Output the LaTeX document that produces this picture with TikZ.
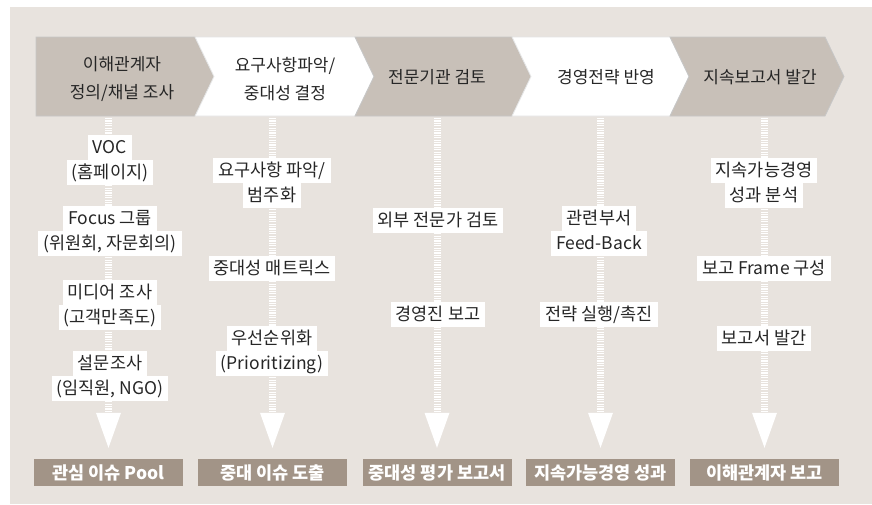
\documentclass[tikz,border=0pt]{standalone}
\usepackage{fontspec}
\setmainfont{Noto Sans CJK KR}
\usetikzlibrary{arrows.meta}
\definecolor{bgbeige}{HTML}{E8E3DE}
\definecolor{chevgray}{HTML}{C8C0B8}
\definecolor{boxbrown}{HTML}{A29487}
\definecolor{txtdark}{HTML}{262626}
\setlength{\fboxsep}{0pt}
\newcommand{\wb}[1]{\colorbox{white}{\hspace{5pt}\rule[-6.5pt]{0pt}{25pt}#1\hspace{5pt}}}
\tikzset{
chev/.style={fill=chevgray,draw=black!22,line width=.8pt},
chevw/.style={fill=white,draw=black!10,line width=.8pt},
stage/.style={font=\fontsize{17}{28}\selectfont,text=txtdark,align=center},
item/.style={font=\fontsize{17.5}{25}\selectfont,text=txtdark,align=center,inner sep=0pt},
result/.style={fill=boxbrown,text=white,font=\fontsize{17.5}{18}\selectfont\bfseries,minimum width=149pt,minimum height=27pt,inner sep=0pt},
stripe/.style={draw=white,line width=7pt,dash pattern=on 1.2pt off 1.2pt}
}
\begin{document}
\begin{tikzpicture}[x=1pt,y=-1pt]
\useasboundingbox(0,0)rectangle(872,504);
\fill[bgbeige](10,7)rectangle(872,504);
% process chevrons
\draw[chev](36,37)--(195,37)--(214,76.5)--(195,116)--(36,116)--cycle;
\foreach \l/\r/\s in {195/355/chevw,355/512/chev,512/670/chevw,670/825/chev}{\draw[\s](\l,37)--(\r,37)--(\r+19,76.5)--(\r,116)--(\l,116)--(\l+19,76.5)--cycle;}
\node[stage](s1)at(122,79){이해관계자\\정의/채널 조사};
\node[stage](s2)at(285,79){요구사항파악/\\중대성 결정};
\node[stage](s3)at(437,77){전문기관 검토};
\node[stage](s4)at(606,77){경영전략 반영};
\node[stage](s5)at(760,77){지속보고서 발간};
% results
\foreach \i/\x/\t in {1/108.5/관심 이슈 Pool,2/272.5/중대 이슈 도출,3/437/중대성 평가 보고서,4/600.5/지속가능경영 성과,5/764.5/이해관계자 보고}{
\node[result](b\i)at(\x,472.5){\t};
\coordinate(k\i)at(\x,118);
\draw[stripe,-{Triangle[width=25pt,length=35pt,line width=0pt]},shorten >=11pt](k\i)--(b\i);}
% column items
\node[item](v1)at(110,160){\wb{VOC}\\\wb{(홈페이지)}};
\node[item](v2)at(110,231){\wb{Focus 그룹}\\\wb{(위원회, 자문회의)}};
\node[item](v3)at(110,305){\wb{미디어 조사}\\\wb{(고객만족도)}};
\node[item](v4)at(110,376){\wb{설문조사}\\\wb{(임직원, NGO)}};
\node[item](m1)at(272,183){\wb{요구사항 파악/}\\\wb{범주화}};
\node[item](m2)at(272,268){\wb{중대성 매트릭스}};
\node[item](m3)at(272,351){\wb{우선순위화}\\\wb{(Prioritizing)}};
\node[item](e1)at(438,220){\wb{외부 전문가 검토}};
\node[item](e2)at(438,314){\wb{경영진 보고}};
\node[item](f1)at(599,231){\wb{관련부서}\\\wb{Feed-Back}};
\node[item](f2)at(599,314){\wb{전략 실행/촉진}};
\node[item](r1)at(764,183){\wb{지속가능경영}\\\wb{성과 분석}};
\node[item](r2)at(764,268){\wb{보고 Frame 구성}};
\node[item](r3)at(764,338){\wb{보고서 발간}};
\end{tikzpicture}
\end{document}
